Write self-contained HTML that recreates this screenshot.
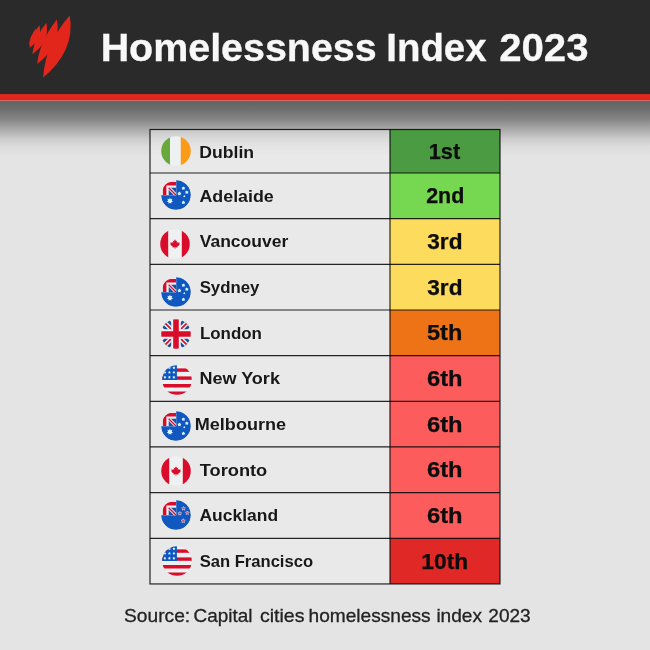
<!DOCTYPE html>
<html><head><meta charset="utf-8"><title>Homelessness Index 2023</title>
<style>
html,body{margin:0;padding:0;}
body{width:650px;height:650px;position:relative;overflow:hidden;background:#e4e4e4;font-family:"Liberation Sans","DejaVu Sans",sans-serif;}
#hdr{position:absolute;left:0;top:0;width:650px;height:94px;background:#2a2a2a;}
#stripe{position:absolute;left:0;top:93px;width:650px;height:64px;background:linear-gradient(#2a2a2a 0px,#2a2a2a 0.5px,#d4271f 1.5px,#e6271e 2.2px,#e3261d 4px,#d62820 6.6px,#d0605c 7.1px,#c87272 7.9px,#686466 8.5px,#646464 9px,#6d6d6d 15.84px,#858585 25.92px,#a8a8a8 36px,#c8c8c8 44.96px,#dbdbdb 52.8px,#e4e4e4 64px);}
.t{position:absolute;white-space:nowrap;transform-origin:0 0;line-height:1;}
.w{color:#f8f8f8;font-weight:bold;-webkit-text-stroke:0.3px #f8f8f8;}
.city{font-weight:bold;color:#181818;}
.rt{font-weight:bold;color:#0d0d0d;-webkit-text-stroke:0.25px #0d0d0d;}
.fl{position:absolute;width:30px;height:30px;}
.src{color:#222;-webkit-text-stroke:0.3px #222;}
#logo{position:absolute;left:20px;top:5px;}
</style></head><body>
<div id="hdr"></div><div id="stripe"></div>
<svg width="0" height="0" style="position:absolute"><defs><clipPath id="cq"><path d="M1.9 15.2V10A8 8 0 0 1 9.9 2H15.2V15.2Z"/></clipPath></defs></svg>
<svg id="logo" width="60" height="80" viewBox="0 0 488 650"><g fill="#e3261c">
<path d="M405 85 Q452 372 188 590 Q208 302 405 85Z"/>
<path d="M300 118 Q340 330 140 480 Q156 301 300 118Z"/>
<path d="M215 145 Q245 300 100 400 Q116 267 215 145Z"/>
<path d="M158 165 Q185 280 76 348 Q86 250 158 165Z"/>
<path d="M130 188 Q135 270 72 330 Q80 252 130 188Z"/>
</g></svg>
<svg id="grid" width="650" height="650" viewBox="0 0 650 650" style="position:absolute;left:0;top:0"><rect x="150" y="129.50" width="240" height="454.44" fill="rgba(240,240,240,0.42)"/><rect x="390" y="129.50" width="110" height="43.80" fill="#4a9b41"/><rect x="390" y="173.00" width="110" height="45.96" fill="#76d750"/><rect x="390" y="218.66" width="110" height="45.96" fill="#fddb5c"/><rect x="390" y="264.32" width="110" height="45.96" fill="#fddb5c"/><rect x="390" y="309.98" width="110" height="45.96" fill="#ee7216"/><rect x="390" y="355.64" width="110" height="45.96" fill="#fc5c5c"/><rect x="390" y="401.30" width="110" height="45.96" fill="#fc5c5c"/><rect x="390" y="446.96" width="110" height="45.96" fill="#fc5c5c"/><rect x="390" y="492.62" width="110" height="45.96" fill="#fc5c5c"/><rect x="390" y="538.28" width="110" height="45.66" fill="#e02826"/><g stroke="rgba(8,8,8,0.88)" stroke-width="1.2" fill="none"><path d="M150 173.00H500"/><path d="M150 218.66H500"/><path d="M150 264.32H500"/><path d="M150 309.98H500"/><path d="M150 355.64H500"/><path d="M150 401.30H500"/><path d="M150 446.96H500"/><path d="M150 492.62H500"/><path d="M150 538.28H500"/><path d="M390 129.50V583.94"/><rect x="150" y="129.50" width="350" height="454.44"/></g></svg>
<svg class="fl" style="left:160.80px;top:135.75px" viewBox="0 0 30 30"><defs><clipPath id="fc0"><circle cx="15" cy="15" r="14.8"/></clipPath></defs><g clip-path="url(#fc0)"><rect x="0" y="0" width="9" height="30" fill="#69a83a"/><rect x="9" y="0" width="10.8" height="30" fill="#eef1f1"/><rect x="19.8" y="0" width="10.2" height="30" fill="#fb9b17"/></g></svg>
<svg class="fl" style="left:161.00px;top:180.10px" viewBox="0 0 30 30"><defs><clipPath id="fc1"><circle cx="15" cy="15" r="14.8"/></clipPath></defs><g clip-path="url(#fc1)"><path d="M15.2 0A15 15 0 1 1 0 15.2L15.2 15.2Z" fill="#1057c0"/><g clip-path="url(#cq)"><rect x="0" y="0" width="15.2" height="15.2" fill="#eef1f1"/><path d="M0 0H15.2V5.5H5.4V15.2H0Z" fill="#d90d2b"/><rect x="7.7" y="7.7" width="7.5" height="7.5" fill="#1a50a8"/><path d="M7.7 7.7L15.2 15.2" stroke="#eef1f1" stroke-width="3.2"/><path d="M7.7 7.7L15.2 15.2" stroke="#d90d2b" stroke-width="1.3"/></g><polygon points="8.90,17.60 9.69,19.26 11.48,18.84 10.67,20.50 12.12,21.63 10.32,22.03 10.33,23.87 8.90,22.71 7.47,23.87 7.48,22.03 5.68,21.63 7.13,20.50 6.32,18.84 8.11,19.26" fill="#d9f6ff" /><polygon points="22.40,6.40 23.13,7.30 24.21,7.71 23.57,8.68 23.52,9.84 22.40,9.54 21.28,9.84 21.23,8.68 20.59,7.71 21.67,7.30" fill="#d9f6ff" /><polygon points="18.40,11.60 19.16,12.55 20.30,12.98 19.64,14.00 19.58,15.22 18.40,14.90 17.22,15.22 17.16,14.00 16.50,12.98 17.64,12.55" fill="#d9f6ff" /><polygon points="25.80,10.40 26.53,11.30 27.61,11.71 26.97,12.68 26.92,13.84 25.80,13.54 24.68,13.84 24.63,12.68 23.99,11.71 25.07,11.30" fill="#d9f6ff" /><polygon points="23.30,15.10 23.76,15.67 24.44,15.93 24.04,16.54 24.01,17.27 23.30,17.08 22.59,17.27 22.56,16.54 22.16,15.93 22.84,15.67" fill="#d9f6ff" /><polygon points="22.40,20.60 23.13,21.50 24.21,21.91 23.57,22.88 23.52,24.04 22.40,23.73 21.28,24.04 21.23,22.88 20.59,21.91 21.67,21.50" fill="#d9f6ff" /></g></svg>
<svg class="fl" style="left:160.30px;top:228.70px" viewBox="0 0 30 30"><defs><clipPath id="fc2"><circle cx="15" cy="15" r="14.8"/></clipPath></defs><g clip-path="url(#fc2)"><rect x="0" y="0" width="30" height="30" fill="#eef1f1"/><rect x="0" y="0" width="8.2" height="30" fill="#d90d2b"/><rect x="21.8" y="0" width="8.2" height="30" fill="#d90d2b"/><path d="M15 10.2l1.2 2.2 1.3-.6-.5 2.9 1.5-1.4.4 1 1.7-.3-.7 2 .7.5-2.9 2.2.3 1.1-2.6-.4v1.9h-.8v-1.9l-2.6.4.3-1.1-2.9-2.2.7-.5-.7-2 1.7.3.4-1 1.5 1.4-.5-2.9 1.3.6z" fill="#d90d2b" transform="translate(15 15.4) scale(0.86) translate(-15 -16.2)"/></g></svg>
<svg class="fl" style="left:161.00px;top:276.70px" viewBox="0 0 30 30"><defs><clipPath id="fc3"><circle cx="15" cy="15" r="14.8"/></clipPath></defs><g clip-path="url(#fc3)"><path d="M15.2 0A15 15 0 1 1 0 15.2L15.2 15.2Z" fill="#1057c0"/><g clip-path="url(#cq)"><rect x="0" y="0" width="15.2" height="15.2" fill="#eef1f1"/><path d="M0 0H15.2V5.5H5.4V15.2H0Z" fill="#d90d2b"/><rect x="7.7" y="7.7" width="7.5" height="7.5" fill="#1a50a8"/><path d="M7.7 7.7L15.2 15.2" stroke="#eef1f1" stroke-width="3.2"/><path d="M7.7 7.7L15.2 15.2" stroke="#d90d2b" stroke-width="1.3"/></g><polygon points="8.90,17.60 9.69,19.26 11.48,18.84 10.67,20.50 12.12,21.63 10.32,22.03 10.33,23.87 8.90,22.71 7.47,23.87 7.48,22.03 5.68,21.63 7.13,20.50 6.32,18.84 8.11,19.26" fill="#d9f6ff" /><polygon points="22.40,6.40 23.13,7.30 24.21,7.71 23.57,8.68 23.52,9.84 22.40,9.54 21.28,9.84 21.23,8.68 20.59,7.71 21.67,7.30" fill="#d9f6ff" /><polygon points="18.40,11.60 19.16,12.55 20.30,12.98 19.64,14.00 19.58,15.22 18.40,14.90 17.22,15.22 17.16,14.00 16.50,12.98 17.64,12.55" fill="#d9f6ff" /><polygon points="25.80,10.40 26.53,11.30 27.61,11.71 26.97,12.68 26.92,13.84 25.80,13.54 24.68,13.84 24.63,12.68 23.99,11.71 25.07,11.30" fill="#d9f6ff" /><polygon points="23.30,15.10 23.76,15.67 24.44,15.93 24.04,16.54 24.01,17.27 23.30,17.08 22.59,17.27 22.56,16.54 22.16,15.93 22.84,15.67" fill="#d9f6ff" /><polygon points="22.40,20.60 23.13,21.50 24.21,21.91 23.57,22.88 23.52,24.04 22.40,23.73 21.28,24.04 21.23,22.88 20.59,21.91 21.67,21.50" fill="#d9f6ff" /></g></svg>
<svg class="fl" style="left:161.00px;top:319.20px" viewBox="0 0 30 30"><defs><clipPath id="fc4"><circle cx="15" cy="15" r="14.8"/></clipPath></defs><g clip-path="url(#fc4)"><rect width="30" height="30" fill="#eef1f1"/><path d="M0 0L30 30M30 0L0 30" stroke="#1d4f91" stroke-width="10"/><path d="M0 0L30 30M30 0L0 30" stroke="#eef1f1" stroke-width="4.6"/><path d="M0 0L30 30M30 0L0 30" stroke="#d90d2b" stroke-width="1.6"/><path d="M15 0V30M0 15H30" stroke="#eef1f1" stroke-width="9.6"/><path d="M15 0V30M0 15H30" stroke="#d90d2b" stroke-width="5.6"/></g></svg>
<svg class="fl" style="left:161.60px;top:364.75px" viewBox="0 0 30 30"><defs><clipPath id="fc5"><circle cx="15" cy="15" r="14.8"/></clipPath></defs><g clip-path="url(#fc5)"><rect width="30" height="30" fill="#eef1f1"/><rect x="0" y="3.4" width="30" height="3.4" fill="#d90d2b"/><rect x="0" y="11.4" width="30" height="3.4" fill="#d90d2b"/><rect x="0" y="19" width="30" height="3.5" fill="#d90d2b"/><rect x="0" y="26.5" width="30" height="3.5" fill="#d90d2b"/><rect x="0" y="0" width="14.9" height="15" fill="#1057c0"/><polygon points="2.90,1.35 3.41,2.10 4.28,2.35 3.73,3.07 3.75,3.97 2.90,3.67 2.05,3.97 2.07,3.07 1.52,2.35 2.39,2.10" fill="#d9f6ff" /><polygon points="2.90,5.95 3.41,6.70 4.28,6.95 3.73,7.67 3.75,8.57 2.90,8.27 2.05,8.57 2.07,7.67 1.52,6.95 2.39,6.70" fill="#d9f6ff" /><polygon points="2.90,10.85 3.41,11.60 4.28,11.85 3.73,12.57 3.75,13.47 2.90,13.17 2.05,13.47 2.07,12.57 1.52,11.85 2.39,11.60" fill="#d9f6ff" /><polygon points="7.40,1.35 7.91,2.10 8.78,2.35 8.23,3.07 8.25,3.97 7.40,3.67 6.55,3.97 6.57,3.07 6.02,2.35 6.89,2.10" fill="#d9f6ff" /><polygon points="7.40,5.95 7.91,6.70 8.78,6.95 8.23,7.67 8.25,8.57 7.40,8.27 6.55,8.57 6.57,7.67 6.02,6.95 6.89,6.70" fill="#d9f6ff" /><polygon points="7.40,10.85 7.91,11.60 8.78,11.85 8.23,12.57 8.25,13.47 7.40,13.17 6.55,13.47 6.57,12.57 6.02,11.85 6.89,11.60" fill="#d9f6ff" /><polygon points="11.90,1.35 12.41,2.10 13.28,2.35 12.73,3.07 12.75,3.97 11.90,3.67 11.05,3.97 11.07,3.07 10.52,2.35 11.39,2.10" fill="#d9f6ff" /><polygon points="11.90,5.95 12.41,6.70 13.28,6.95 12.73,7.67 12.75,8.57 11.90,8.27 11.05,8.57 11.07,7.67 10.52,6.95 11.39,6.70" fill="#d9f6ff" /><polygon points="11.90,10.85 12.41,11.60 13.28,11.85 12.73,12.57 12.75,13.47 11.90,13.17 11.05,13.47 11.07,12.57 10.52,11.85 11.39,11.60" fill="#d9f6ff" /></g></svg>
<svg class="fl" style="left:161.00px;top:410.70px" viewBox="0 0 30 30"><defs><clipPath id="fc6"><circle cx="15" cy="15" r="14.8"/></clipPath></defs><g clip-path="url(#fc6)"><path d="M15.2 0A15 15 0 1 1 0 15.2L15.2 15.2Z" fill="#1057c0"/><g clip-path="url(#cq)"><rect x="0" y="0" width="15.2" height="15.2" fill="#eef1f1"/><path d="M0 0H15.2V5.5H5.4V15.2H0Z" fill="#d90d2b"/><rect x="7.7" y="7.7" width="7.5" height="7.5" fill="#1a50a8"/><path d="M7.7 7.7L15.2 15.2" stroke="#eef1f1" stroke-width="3.2"/><path d="M7.7 7.7L15.2 15.2" stroke="#d90d2b" stroke-width="1.3"/></g><polygon points="8.90,17.60 9.69,19.26 11.48,18.84 10.67,20.50 12.12,21.63 10.32,22.03 10.33,23.87 8.90,22.71 7.47,23.87 7.48,22.03 5.68,21.63 7.13,20.50 6.32,18.84 8.11,19.26" fill="#d9f6ff" /><polygon points="22.40,6.40 23.13,7.30 24.21,7.71 23.57,8.68 23.52,9.84 22.40,9.54 21.28,9.84 21.23,8.68 20.59,7.71 21.67,7.30" fill="#d9f6ff" /><polygon points="18.40,11.60 19.16,12.55 20.30,12.98 19.64,14.00 19.58,15.22 18.40,14.90 17.22,15.22 17.16,14.00 16.50,12.98 17.64,12.55" fill="#d9f6ff" /><polygon points="25.80,10.40 26.53,11.30 27.61,11.71 26.97,12.68 26.92,13.84 25.80,13.54 24.68,13.84 24.63,12.68 23.99,11.71 25.07,11.30" fill="#d9f6ff" /><polygon points="23.30,15.10 23.76,15.67 24.44,15.93 24.04,16.54 24.01,17.27 23.30,17.08 22.59,17.27 22.56,16.54 22.16,15.93 22.84,15.67" fill="#d9f6ff" /><polygon points="22.40,20.60 23.13,21.50 24.21,21.91 23.57,22.88 23.52,24.04 22.40,23.73 21.28,24.04 21.23,22.88 20.59,21.91 21.67,21.50" fill="#d9f6ff" /></g></svg>
<svg class="fl" style="left:161.10px;top:455.50px" viewBox="0 0 30 30"><defs><clipPath id="fc7"><circle cx="15" cy="15" r="14.8"/></clipPath></defs><g clip-path="url(#fc7)"><rect x="0" y="0" width="30" height="30" fill="#eef1f1"/><rect x="0" y="0" width="8.2" height="30" fill="#d90d2b"/><rect x="21.8" y="0" width="8.2" height="30" fill="#d90d2b"/><path d="M15 10.2l1.2 2.2 1.3-.6-.5 2.9 1.5-1.4.4 1 1.7-.3-.7 2 .7.5-2.9 2.2.3 1.1-2.6-.4v1.9h-.8v-1.9l-2.6.4.3-1.1-2.9-2.2.7-.5-.7-2 1.7.3.4-1 1.5 1.4-.5-2.9 1.3.6z" fill="#d90d2b" transform="translate(15 15.4) scale(0.86) translate(-15 -16.2)"/></g></svg>
<svg class="fl" style="left:161.20px;top:500.00px" viewBox="0 0 30 30"><defs><clipPath id="fc8"><circle cx="15" cy="15" r="14.8"/></clipPath></defs><g clip-path="url(#fc8)"><path d="M15.2 0A15 15 0 1 1 0 15.2L15.2 15.2Z" fill="#1057c0"/><g clip-path="url(#cq)"><rect x="0" y="0" width="15.2" height="15.2" fill="#eef1f1"/><path d="M0 0H15.2V5.5H5.4V15.2H0Z" fill="#d90d2b"/><rect x="7.7" y="7.7" width="7.5" height="7.5" fill="#1a50a8"/><path d="M7.7 7.7L15.2 15.2" stroke="#eef1f1" stroke-width="3.2"/><path d="M7.7 7.7L15.2 15.2" stroke="#d90d2b" stroke-width="1.3"/></g><polygon points="22.50,6.60 23.09,7.79 24.40,7.98 23.45,8.91 23.68,10.22 22.50,9.60 21.32,10.22 21.55,8.91 20.60,7.98 21.91,7.79" fill="#cf4a6a" stroke="#c3cbea" stroke-width="0.7" stroke-linejoin="round"/><polygon points="18.80,11.50 19.39,12.69 20.70,12.88 19.75,13.81 19.98,15.12 18.80,14.50 17.62,15.12 17.85,13.81 16.90,12.88 18.21,12.69" fill="#cf4a6a" stroke="#c3cbea" stroke-width="0.7" stroke-linejoin="round"/><polygon points="26.30,10.90 26.89,12.09 28.20,12.28 27.25,13.21 27.48,14.52 26.30,13.90 25.12,14.52 25.35,13.21 24.40,12.28 25.71,12.09" fill="#cf4a6a" stroke="#c3cbea" stroke-width="0.7" stroke-linejoin="round"/><polygon points="22.20,18.70 22.85,20.01 24.29,20.22 23.25,21.24 23.49,22.68 22.20,22.00 20.91,22.68 21.15,21.24 20.11,20.22 21.55,20.01" fill="#cf4a6a" stroke="#c3cbea" stroke-width="0.7" stroke-linejoin="round"/></g></svg>
<svg class="fl" style="left:161.60px;top:546.20px" viewBox="0 0 30 30"><defs><clipPath id="fc9"><circle cx="15" cy="15" r="14.8"/></clipPath></defs><g clip-path="url(#fc9)"><rect width="30" height="30" fill="#eef1f1"/><rect x="0" y="3.4" width="30" height="3.4" fill="#d90d2b"/><rect x="0" y="11.4" width="30" height="3.4" fill="#d90d2b"/><rect x="0" y="19" width="30" height="3.5" fill="#d90d2b"/><rect x="0" y="26.5" width="30" height="3.5" fill="#d90d2b"/><rect x="0" y="0" width="14.9" height="15" fill="#1057c0"/><polygon points="2.90,1.35 3.41,2.10 4.28,2.35 3.73,3.07 3.75,3.97 2.90,3.67 2.05,3.97 2.07,3.07 1.52,2.35 2.39,2.10" fill="#d9f6ff" /><polygon points="2.90,5.95 3.41,6.70 4.28,6.95 3.73,7.67 3.75,8.57 2.90,8.27 2.05,8.57 2.07,7.67 1.52,6.95 2.39,6.70" fill="#d9f6ff" /><polygon points="2.90,10.85 3.41,11.60 4.28,11.85 3.73,12.57 3.75,13.47 2.90,13.17 2.05,13.47 2.07,12.57 1.52,11.85 2.39,11.60" fill="#d9f6ff" /><polygon points="7.40,1.35 7.91,2.10 8.78,2.35 8.23,3.07 8.25,3.97 7.40,3.67 6.55,3.97 6.57,3.07 6.02,2.35 6.89,2.10" fill="#d9f6ff" /><polygon points="7.40,5.95 7.91,6.70 8.78,6.95 8.23,7.67 8.25,8.57 7.40,8.27 6.55,8.57 6.57,7.67 6.02,6.95 6.89,6.70" fill="#d9f6ff" /><polygon points="7.40,10.85 7.91,11.60 8.78,11.85 8.23,12.57 8.25,13.47 7.40,13.17 6.55,13.47 6.57,12.57 6.02,11.85 6.89,11.60" fill="#d9f6ff" /><polygon points="11.90,1.35 12.41,2.10 13.28,2.35 12.73,3.07 12.75,3.97 11.90,3.67 11.05,3.97 11.07,3.07 10.52,2.35 11.39,2.10" fill="#d9f6ff" /><polygon points="11.90,5.95 12.41,6.70 13.28,6.95 12.73,7.67 12.75,8.57 11.90,8.27 11.05,8.57 11.07,7.67 10.52,6.95 11.39,6.70" fill="#d9f6ff" /><polygon points="11.90,10.85 12.41,11.60 13.28,11.85 12.73,12.57 12.75,13.47 11.90,13.17 11.05,13.47 11.07,12.57 10.52,11.85 11.39,11.60" fill="#d9f6ff" /></g></svg>
<div id="t0" class="t w" style="left:0;top:0;font-size:39.4px;transform:translate(100.63px,28.00px) scaleX(1.0006)">Homelessness</div>
<div id="t1" class="t w" style="left:0;top:0;font-size:39.4px;transform:translate(386.22px,28.00px) scaleX(0.9759)">Index</div>
<div id="t2" class="t w" style="left:0;top:0;font-size:39.4px;transform:translate(499.13px,28.00px) scaleX(1.0201)">2023</div>
<div id="c0" class="t city" style="left:0;top:0;font-size:17px;transform:translate(199.25px,144.00px) scaleX(1.0361)">Dublin</div>
<div id="c1" class="t city" style="left:0;top:0;font-size:17px;transform:translate(199.47px,188.00px) scaleX(1.0488)">Adelaide</div>
<div id="c2" class="t city" style="left:0;top:0;font-size:17px;transform:translate(199.72px,233.00px) scaleX(1.0297)">Vancouver</div>
<div id="c3" class="t city" style="left:0;top:0;font-size:17px;transform:translate(199.63px,279.00px) scaleX(0.9890)">Sydney</div>
<div id="c4" class="t city" style="left:0;top:0;font-size:17px;transform:translate(199.93px,325.00px) scaleX(0.9949)">London</div>
<div id="c5" class="t city" style="left:0;top:0;font-size:17px;transform:translate(199.38px,370.00px) scaleX(1.0610)">New York</div>
<div id="c6" class="t city" style="left:0;top:0;font-size:17px;transform:translate(194.77px,416.00px) scaleX(1.0623)">Melbourne</div>
<div id="c7" class="t city" style="left:0;top:0;font-size:17px;transform:translate(199.78px,462.00px) scaleX(1.0716)">Toronto</div>
<div id="c8" class="t city" style="left:0;top:0;font-size:17px;transform:translate(199.50px,507.00px) scaleX(1.0272)">Auckland</div>
<div id="c9" class="t city" style="left:0;top:0;font-size:17px;transform:translate(199.64px,553.00px) scaleX(0.9761)">San Francisco</div>
<div id="r0" class="t rt" style="left:0;top:0;font-size:21.2px;transform:translate(428.74px,141.00px) scaleX(1.0269)">1st</div>
<div id="r1" class="t rt" style="left:0;top:0;font-size:21.2px;transform:translate(426.15px,185.00px) scaleX(1.0128)">2nd</div>
<div id="r2" class="t rt" style="left:0;top:0;font-size:21.2px;transform:translate(427.23px,231.00px) scaleX(1.0688)">3rd</div>
<div id="r3" class="t rt" style="left:0;top:0;font-size:21.2px;transform:translate(427.23px,277.00px) scaleX(1.0688)">3rd</div>
<div id="r4" class="t rt" style="left:0;top:0;font-size:21.2px;transform:translate(427.04px,322.00px) scaleX(1.1104)">5th</div>
<div id="r5" class="t rt" style="left:0;top:0;font-size:21.2px;transform:translate(427.01px,368.00px) scaleX(1.1190)">6th</div>
<div id="r6" class="t rt" style="left:0;top:0;font-size:21.2px;transform:translate(427.01px,414.00px) scaleX(1.1190)">6th</div>
<div id="r7" class="t rt" style="left:0;top:0;font-size:21.2px;transform:translate(427.01px,459.00px) scaleX(1.1190)">6th</div>
<div id="r8" class="t rt" style="left:0;top:0;font-size:21.2px;transform:translate(427.01px,505.00px) scaleX(1.1190)">6th</div>
<div id="r9" class="t rt" style="left:0;top:0;font-size:21.2px;transform:translate(421.35px,551.00px) scaleX(1.0757)">10th</div>
<div id="s0" class="t src" style="left:0;top:0;font-size:19.0px;transform:translate(124.03px,606.00px) scaleX(1.0096)">Source:</div>
<div id="s1" class="t src" style="left:0;top:0;font-size:19.0px;transform:translate(193.61px,606.00px) scaleX(0.9952)">Capital</div>
<div id="s2" class="t src" style="left:0;top:0;font-size:19.0px;transform:translate(259.94px,606.00px) scaleX(1.0307)">cities</div>
<div id="s3" class="t src" style="left:0;top:0;font-size:19.0px;transform:translate(308.53px,606.00px) scaleX(1.0057)">homelessness</div>
<div id="s4" class="t src" style="left:0;top:0;font-size:19.0px;transform:translate(436.38px,606.00px) scaleX(1.0045)">index</div>
<div id="s5" class="t src" style="left:0;top:0;font-size:19.0px;transform:translate(488.36px,606.00px) scaleX(1.0014)">2023</div>
</body></html>
